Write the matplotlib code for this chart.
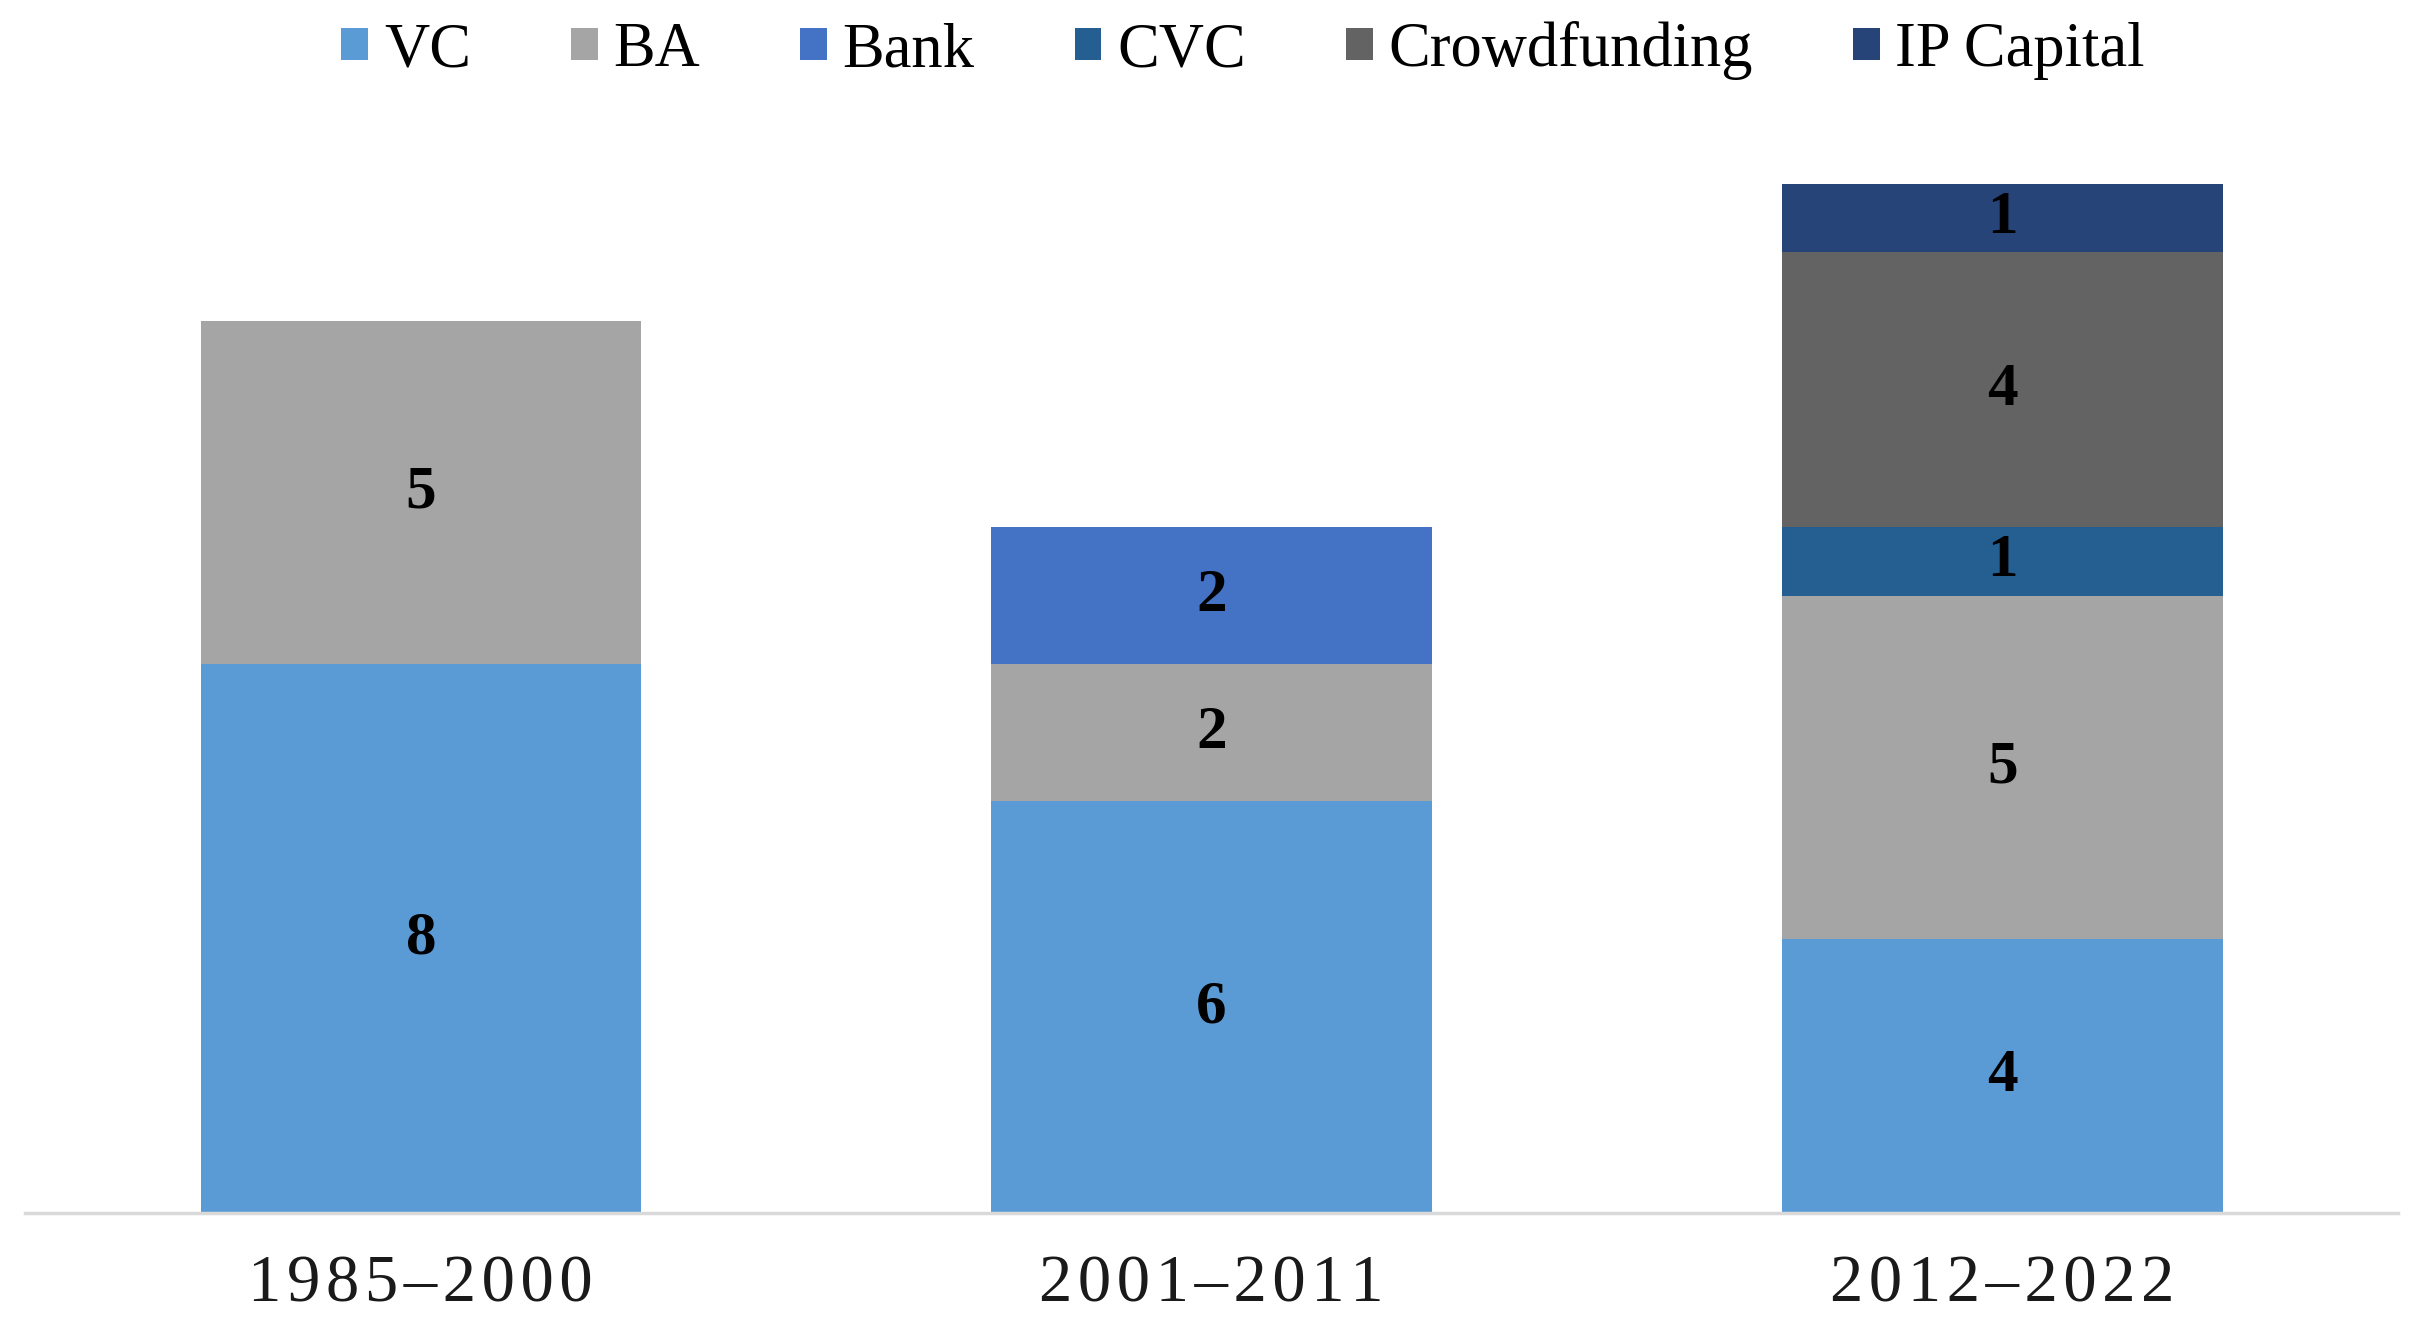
"""Stacked bar chart: financing sources per period."""

import numpy as np
import matplotlib

matplotlib.use("Agg")
import matplotlib.pyplot as plt
from matplotlib.patches import Patch

plt.rcParams["font.family"] = ["Liberation Serif", "DejaVu Serif"]

periods = ["1985–2000", "2001–2011", "2012–2022"]
series_names = ["VC", "BA", "Bank", "CVC", "Crowdfunding", "IP Capital"]
vc = [8, 6, 4]
ba = [5, 2, 5]
bank = [0, 2, 0]
cvc = [0, 0, 1]
crowdfunding = [0, 0, 4]
ip_capital = [0, 0, 1]

colors = ["#5B9BD5", "#A5A5A5", "#4472C4", "#255E91", "#636363", "#264478"]

fig = plt.figure(figsize=(24.16, 13.39), dpi=100)
ax = fig.add_axes([0.0105, 0.094, 0.982, 0.82])

x = np.arange(len(periods))
bottom = np.zeros(len(periods))
for name, vals, col in zip(series_names,
                           [vc, ba, bank, cvc, crowdfunding, ip_capital],
                           colors):
    vals = np.array(vals, dtype=float)
    bars = ax.bar(x, vals, 0.557, bottom=bottom, color=col, label=name)
    labels = [f"{v:g}" if v > 0 else "" for v in vals]
    ax.bar_label(bars, labels=labels, label_type="center",
                 fontsize=44, fontweight="bold", color="black")
    bottom += vals

ax.set_xlim(-0.5, 2.5)
ax.set_ylim(0, 16)
ax.set_yticks([])
for side in ("left", "right", "top"):
    ax.spines[side].set_visible(False)
ax.spines["bottom"].set_color("#D9D9D9")
ax.spines["bottom"].set_linewidth(2.5)

# letter-spaced category labels (hair spaces between characters)
ax.set_xticks(x)
ax.set_xticklabels(["\u200a".join(p) for p in periods],
                   fontsize=48, color="#1a1a1a")
ax.tick_params(axis="x", length=0, pad=30)

handles = [Patch(facecolor=c, edgecolor="none") for c in colors]
fig.legend(handles, series_names, loc="center",
           bbox_to_anchor=(0.5145, 0.962), ncol=6, frameon=False,
           fontsize=45, handlelength=0.43, handleheight=0.43,
           handletextpad=0.25, columnspacing=1.6)

fig.savefig("out.png", dpi=100)
